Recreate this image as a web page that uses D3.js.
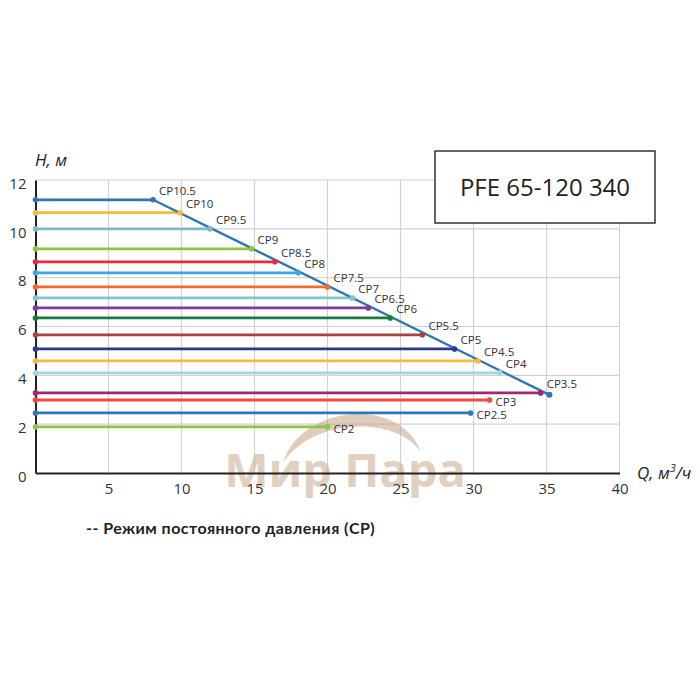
<!DOCTYPE html>
<html><head><meta charset="utf-8">
<script src="https://cdn.jsdelivr.net/npm/d3@7"></script>
<style>html,body{margin:0;padding:0;background:#fff}svg{display:block}</style>
</head><body>
<svg id="c" width="700" height="700"></svg>
<script>
// ---- data ----
const labels = ["CP10.5","CP10","CP9.5","CP9","CP8.5","CP8","CP7.5","CP7","CP6.5","CP6","CP5.5","CP5","CP4.5","CP4","CP3.5","CP3","CP2.5","CP2"];
const heads  = [11.19,10.66,10.0,9.18,8.65,8.2,7.62,7.17,6.76,6.35,5.66,5.08,4.59,4.1,3.28,2.99,2.46,1.89];
const flows  = [8.05,9.9,11.95,14.8,16.4,18.0,20.0,21.7,22.8,24.3,26.5,28.7,30.3,31.8,34.6,31.1,29.8,20.0];
const colors = ["#2e75b6","#f4b940","#7fb9c9","#8dc63f","#e32d3c","#38a8df","#f26b2d","#83c5d1","#7b3e9b","#1b7a3c","#a5433f","#2b3990","#f6b945","#a3d6e2","#a0286f","#ef4a44","#2f77bc","#8cc63f"];
const limitFlow = [8.05, 35.2];
const limitHead = [11.19, 3.2];
const xTicks = [5,10,15,20,25,30,35,40];
const yTicks = [0,2,4,6,8,10,12];
const title = "PFE 65-120 340";
const legendText = "-- Режим постоянного давления (CP)";

// ---- chart ----
const svg = d3.select("#c");
const font = "'Open Sans', sans-serif";
const x = d3.scaleLinear().domain([0,40]).range([35.5,619.5]);
const y = d3.scaleLinear().domain([0,12]).range([473,180]);

// grid
const g = svg.append("g");
g.selectAll(".vg").data(xTicks).join("line")
  .attr("x1",d=>x(d)).attr("x2",d=>x(d)).attr("y1",y(0)).attr("y2",y(12))
  .attr("stroke","#d2d2d2").attr("stroke-width",1.2);
g.selectAll(".hg").data(yTicks.filter(d=>d>0)).join("line")
  .attr("x1",x(0)).attr("x2",x(40)).attr("y1",d=>y(d)).attr("y2",d=>y(d))
  .attr("stroke","#d2d2d2").attr("stroke-width",1.2);

// watermark
const wm = svg.append("g").attr("opacity",0.55);
wm.append("path")
  .attr("d","M283,463 C300,405 400,395 421,452 C395,415 312,418 283,463 Z")
  .attr("fill","#c6a486");
wm.append("text").attr("x",345).attr("y",487).attr("text-anchor","middle")
  .attr("font-family","'Open Sans', sans-serif").attr("font-weight","bold")
  .attr("font-size",47).attr("fill","#c9a98e").text("Мир Пара");

// axes
const xa = svg.append("g").attr("transform",`translate(0,${y(0)})`)
  .call(d3.axisBottom(x).tickValues(xTicks).tickSize(0).tickPadding(9));
const ya = svg.append("g").attr("transform",`translate(${x(0)},0)`)
  .call(d3.axisLeft(y).tickValues(yTicks).tickSize(0).tickPadding(9));
[xa,ya].forEach(a=>{
  a.select(".domain").attr("stroke","#222").attr("stroke-width",2);
  a.selectAll("text").attr("font-family",font).attr("font-size",15).attr("fill","#333");
});
ya.selectAll("text").attr("dy","0.55em");
xa.selectAll("text").attr("dy","0.8em");

// series
const series = labels.map((l,i)=>({label:l, head:heads[i], flow:flows[i], color:colors[i]}));
const lineGen = d3.line().x(d=>x(d[0])).y(d=>y(d[1]));
svg.append("g").selectAll("path").data(series).join("path")
  .attr("d",d=>lineGen([[0,d.head],[d.flow,d.head]]))
  .attr("stroke",d=>d.color).attr("stroke-width",2.8).attr("fill","none");
const limitPts = limitFlow.map((f,i)=>[f,limitHead[i]]);
svg.append("path").attr("d",lineGen(limitPts))
  .attr("stroke","#2e75b6").attr("stroke-width",2.4).attr("fill","none");

// dots
const dots = [];
series.forEach(d=>{dots.push({x:0,y:d.head,c:d.color});dots.push({x:d.flow,y:d.head,c:d.color});});
svg.append("g").selectAll("circle").data(dots).join("circle")
  .attr("cx",d=>x(d.x)).attr("cy",d=>y(d.y)).attr("r",2.8).attr("fill",d=>d.c);
svg.append("circle").attr("cx",x(limitPts[1][0])).attr("cy",y(limitPts[1][1])).attr("r",3).attr("fill","#2e75b6");

// labels
const slope = (limitHead[1]-limitHead[0])/(limitFlow[1]-limitFlow[0]);
const onLimit = d => Math.abs(limitHead[0]+slope*(d.flow-limitFlow[0]) - d.head) < 0.3;
svg.append("g").selectAll("text").data(series).join("text")
  .attr("x",d=>x(d.flow)+6)
  .attr("y",d=>y(d.head)+(onLimit(d)?-9:2))
  .attr("dy","0.35em")
  .attr("font-family",font).attr("font-size",11.5).attr("fill","#333")
  .text(d=>d.label);

// axis titles
svg.append("text").attr("x",35).attr("y",166).attr("font-family",font).attr("font-style","italic")
  .attr("font-size",17).attr("fill","#222").text("H, м");
const qt = svg.append("text").attr("x",637).attr("y",479).attr("font-family",font).attr("font-style","italic")
  .attr("font-size",17).attr("fill","#222");
qt.append("tspan").text("Q, м");
qt.append("tspan").attr("font-size",11).attr("dy",-7).text("3");
qt.append("tspan").attr("dy",7).text("/ч");

// title box
svg.append("rect").attr("x",435).attr("y",151).attr("width",220).attr("height",72)
  .attr("fill","#fff").attr("stroke","#333").attr("stroke-width",1.5);
svg.append("text").attr("x",545).attr("y",188).attr("dy","0.35em").attr("text-anchor","middle")
  .attr("font-family",font).attr("font-size",24).attr("fill","#222").text(title);

// legend
svg.append("text").attr("x",86).attr("y",528).attr("dy","0.35em")
  .attr("font-family","Lato, sans-serif").attr("font-weight","bold")
  .attr("font-size",16).attr("letter-spacing",0.45).attr("fill","#222").text(legendText);
</script>
</body></html>
